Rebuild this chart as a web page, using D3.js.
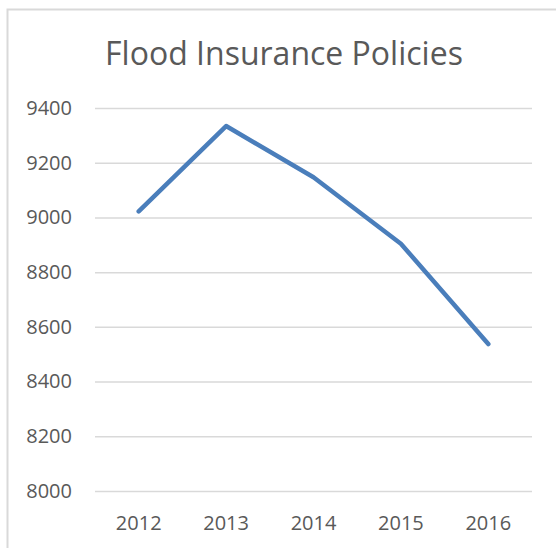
<!DOCTYPE html>
<html>
<head>
<meta charset="utf-8">
<script src="https://cdn.jsdelivr.net/npm/d3@7"></script>
<style>
  html, body { margin: 0; padding: 0; background: #fff; }
  svg { display: block; }
  text { font-family: "Open Sans", "Noto Sans", sans-serif; fill: #595959; }
</style>
</head>
<body>
<script>
const title = "Flood Insurance Policies";
const years = ["2012", "2013", "2014", "2015", "2016"];
const policies = [9022, 9334, 9147, 8904, 8537];
const yTicks = [8000, 8200, 8400, 8600, 8800, 9000, 9200, 9400];

const W = 556, H = 548;
const svg = d3.select("body").append("svg").attr("width", W).attr("height", H);

// chart frame (cropped at right/bottom)
svg.append("rect")
  .attr("x", 7.5).attr("y", 9.5)
  .attr("width", 600).attr("height", 600)
  .attr("fill", "none").attr("stroke", "#d9d9d9").attr("stroke-width", 2);

const plot = {left: 95, right: 532, top: 108, bottom: 491};

const x = d3.scaleBand().domain(years).range([plot.left, plot.right]).padding(0);
const y = d3.scaleLinear().domain([8000, 9400]).range([plot.bottom, plot.top]);

// gridlines
const yAxis = d3.axisLeft(y).tickValues(yTicks).tickSize(-(plot.right - plot.left)).tickPadding(23).tickFormat(d3.format("d"));
const gy = svg.append("g").attr("transform", `translate(${plot.left},0)`).call(yAxis);
gy.select(".domain").remove();
gy.selectAll(".tick line").attr("stroke", "#d9d9d9").attr("stroke-width", 1.5);
gy.selectAll(".tick text").attr("font-size", 20).attr("fill", "#595959")
  .attr("font-family", '"Open Sans", sans-serif');

// x axis labels
const xAxis = d3.axisBottom(x).tickSize(0).tickPadding(0);
const gx = svg.append("g").attr("transform", `translate(0,${plot.bottom})`).call(xAxis);
gx.select(".domain").remove();
gx.selectAll(".tick text").attr("font-size", 20).attr("fill", "#595959")
  .attr("font-family", '"Open Sans", sans-serif')
  .attr("dy", null).attr("y", 39);

// line
const line = d3.line()
  .x((d, i) => x(years[i]) + x.bandwidth() / 2)
  .y(d => y(d));
svg.append("path")
  .datum(policies)
  .attr("d", line)
  .attr("fill", "none")
  .attr("stroke", "#4a7ebb")
  .attr("stroke-width", 4.5)
  .attr("stroke-linecap", "round")
  .attr("stroke-linejoin", "round");

// title
const t = svg.append("text")
  .attr("x", 284).attr("y", 65)
  .attr("text-anchor", "middle")
  .attr("font-size", 32)
  .attr("fill", "#595959")
  .text(title);
</script>
</body>
</html>
